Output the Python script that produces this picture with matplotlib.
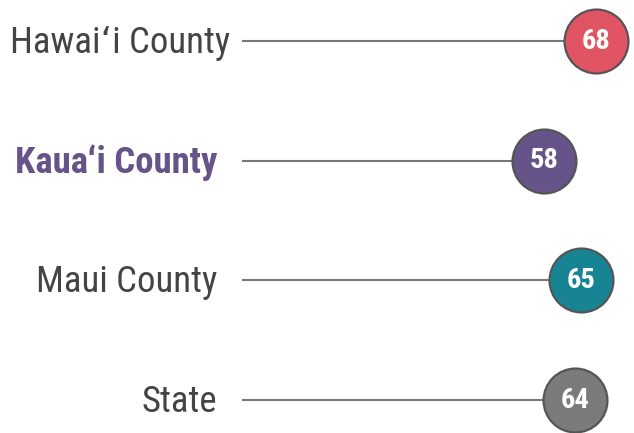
import matplotlib
matplotlib.use("Agg")
import matplotlib.pyplot as plt

categories = ["Hawaiʻi County", "Kauaʻi County", "Maui County", "State"]
values = [68, 58, 65, 64]
colors = ["#e05464", "#655389", "#178494", "#7b7b7b"]
label_colors = ["#444444", "#655389", "#444444", "#444444"]
label_weights = ["normal", "bold", "normal", "normal"]
label_x = [-2.3, -4.8, -4.8, -4.8]

FONT = ["Roboto Condensed", "Roboto", "DejaVu Sans"]
W, H = 634, 433
fig = plt.figure(figsize=(W / 100, H / 100), dpi=100)
ax = fig.add_axes([0, 0, 1, 1])
k = 5.21
x0 = 242
ax.set_xlim(-x0 / k, (W - x0) / k)
rowh = 119.7
y0 = 41
ax.set_ylim((H - y0) / rowh, -y0 / rowh)
ax.axis("off")

for i, (cat, v) in enumerate(zip(categories, values)):
    ax.plot([0, v], [i, i], color="#777777", lw=1.5, solid_capstyle="butt", zorder=1)
    ax.plot([v], [i], marker="o", markersize=46, markerfacecolor=colors[i],
            markeredgecolor="#555555", markeredgewidth=1.6, zorder=2)
    ax.text(v, i, str(v), ha="center", va="center", color="white",
            fontsize=20.5, fontweight="bold", family=FONT, zorder=3)
    ax.text(label_x[i], i + 0.015, cat, ha="right", va="center", color=label_colors[i],
            fontsize=26.5, fontweight=label_weights[i], family=FONT)

fig.savefig("out.png", dpi=100)
